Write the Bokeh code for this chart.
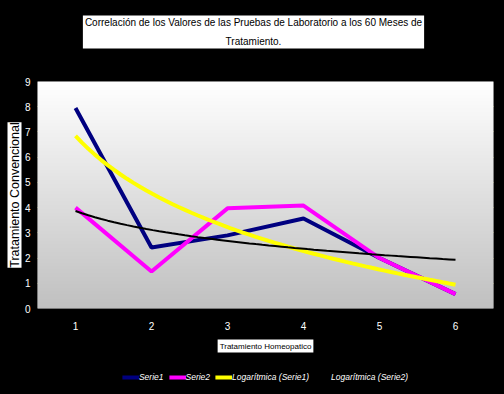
import numpy as np
from bokeh.plotting import figure
from bokeh.layouts import column
from bokeh.models import Legend, LegendItem, Range1d, FixedTicker, Title, Label
from bokeh.embed import file_html
from bokeh.resources import INLINE

# ---- data ----
x_vals = [1, 2, 3, 4, 5, 6]
serie1 = [7.95, 2.42, 2.9, 3.57, 2.0, 0.57]
serie2 = [4.0, 1.47, 3.97, 4.08, 2.0, 0.57]
x_ticks = [1, 2, 3, 4, 5, 6]
y_ticks = [0, 1, 2, 3, 4, 5, 6, 7, 8, 9]
title_text = "Correlación de los Valores de las Pruebas de Laboratorio a los 60 Meses de\nTratamiento."
x_title = "Tratamiento Homeopatico"
y_title = "Tratamiento Convencional"
legend_labels = ["Serie1", "Serie2", "Logarítmica (Serie1)", "Logarítmica (Serie2)"]

FONT = "Liberation Sans"
COLORS = ["#000080", "#ff00ff", "#ffff00", "#000000"]
WIDTHS = [4, 4, 4, 2]


def log_fit(xs, ys):
    lx = np.log(np.asarray(xs, dtype=float))
    b, a = np.polyfit(lx, np.asarray(ys, dtype=float), 1)
    xx = np.linspace(min(xs), max(xs), 60)
    return xx, a + b * np.log(xx)


def strip(h):
    f = figure(width=504, height=h, x_range=Range1d(0, 1), y_range=Range1d(0, 1),
               output_backend="svg", toolbar_location=None,
               x_axis_location=None, y_axis_location=None,
               min_border_left=0, min_border_right=0, min_border_top=0, min_border_bottom=0,
               background_fill_color="black", border_fill_color="black")
    f.outline_line_color = None
    f.xgrid.grid_line_color = None
    f.ygrid.grid_line_color = None
    return f


# ---- title strip ----
top = strip(71)
top.add_layout(Label(x=216, y=39.5, x_units="screen", y_units="screen", text=title_text,
                     text_align="center", text_baseline="middle", text_color="black",
                     text_font=FONT, text_font_size="10px", text_line_height=1.65,
                     background_fill_color="white", padding=2))

# ---- main plot ----
tx1, ty1 = log_fit(x_vals, serie1)
tx2, ty2 = log_fit(x_vals, serie2)

p = figure(width=504, height=289, x_range=Range1d(0.5, 6.5), y_range=Range1d(0, 9),
           output_backend="svg", toolbar_location=None,
           min_border_left=37, min_border_right=11, min_border_top=10, min_border_bottom=52,
           background_fill_color="#c0c0c0", border_fill_color="black")
p.outline_line_color = None

# gradient plot-area background
N = 200
img = np.empty((N, 1), dtype=np.uint32)
view = img.view(dtype=np.uint8).reshape((N, 1, 4))
for i in range(N):
    g = int(round(192 + (255 - 192) * i / (N - 1)))
    view[i, 0, :] = [g, g, g, 255]
p.image_rgba(image=[img], x=0.5, y=0, dw=6, dh=9)

p.xgrid.grid_line_color = None
p.ygrid.grid_line_color = "#ffff99"
p.ygrid.grid_line_width = 1
p.ygrid.ticker = FixedTicker(ticks=y_ticks[1:])

for ax in (p.xaxis, p.yaxis):
    ax.axis_line_color = None
    ax.major_tick_line_color = None
    ax.minor_tick_line_color = None
    ax.major_tick_out = 0
    ax.major_tick_in = 0
    ax.minor_tick_out = 0
    ax.major_label_text_color = "white"
    ax.major_label_text_font = FONT
    ax.major_label_text_font_size = "10px"
p.xaxis.ticker = FixedTicker(ticks=x_ticks)
p.yaxis.ticker = FixedTicker(ticks=y_ticks)
p.xaxis.major_label_standoff = 13
p.yaxis.major_label_standoff = 7

p.line(x_vals, serie1, line_color=COLORS[0], line_width=WIDTHS[0])
p.line(x_vals, serie2, line_color=COLORS[1], line_width=WIDTHS[1])
p.line(tx1, ty1, line_color=COLORS[2], line_width=WIDTHS[2])
p.line(tx2, ty2, line_color=COLORS[3], line_width=WIDTHS[3])

p.add_layout(Title(text=y_title, align="center", standoff=0,
                   text_color="black", text_font=FONT, text_font_size="12.5px",
                   text_font_style="normal", text_line_height=0.8,
                   background_fill_color="white", padding=0), "left")
p.add_layout(Title(text=x_title, align="center", standoff=10,
                   text_color="black", text_font=FONT, text_font_size="8px",
                   text_font_style="normal",
                   background_fill_color="white", padding=2), "below")

# ---- legend strip ----
q = strip(34)
q.x_range = Range1d(100, 101)  # keys' data lie outside the view; only legend swatches show
keys = [q.line(x_vals, serie1, line_color=COLORS[0], line_width=WIDTHS[0]),
        q.line(x_vals, serie2, line_color=COLORS[1], line_width=WIDTHS[1]),
        q.line(tx1, ty1, line_color=COLORS[2], line_width=WIDTHS[2]),
        q.line(tx2, ty2, line_color=COLORS[3], line_width=WIDTHS[3])]
legend = Legend(items=[LegendItem(label=lab, renderers=[r]) for lab, r in zip(legend_labels, keys)],
                orientation="horizontal", location="center",
                background_fill_alpha=0, border_line_color=None,
                label_text_color="white", label_text_font=FONT,
                label_text_font_style="italic", label_text_font_size="8.5px",
                glyph_width=17, glyph_height=10, label_height=10,
                label_standoff=0, spacing=5, padding=0, margin=0)
q.add_layout(legend, "center")

page = column(top, p, q, spacing=0)
open("out.html", "w").write(file_html(page, INLINE).replace("<body>", '<body style="background-color:#000000;">'))
